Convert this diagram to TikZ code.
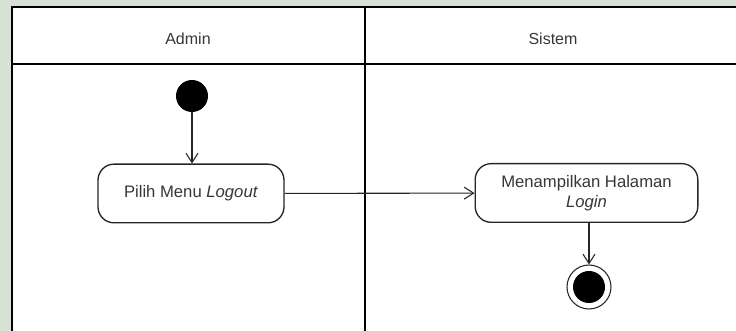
\documentclass[tikz,border=0pt]{standalone}
\usepackage{fontspec}
\setmainfont{Liberation Sans}
\usetikzlibrary{arrows.meta}
\definecolor{pagegreen}{RGB}{214,227,212}
\definecolor{txtgrey}{RGB}{55,55,55}

\begin{document}
\begin{tikzpicture}[x=0.75pt,y=0.75pt,
    lane/.style={font=\fontsize{12}{14}\selectfont,text=txtgrey},
    act/.style={draw=black!85,line width=1pt,rounded corners=12pt,fill=white,
      minimum height=44pt,align=center,font=\fontsize{12.5}{15}\selectfont,text=txtgrey},
    flow/.style={draw=black!85,line width=0.8pt,-{Straight Barb[length=7pt,width=9pt]}}]
  \useasboundingbox (0,0) rectangle (736,331);
  \clip (0,0) rectangle (736,331);
  \fill[pagegreen] (0,0) rectangle (736,331);
  \fill[white] (12,0) rectangle (740,324);
  % swimlanes
  \draw[line width=1.5pt] (12,-5) -- (12,324) -- (745,324);
  \draw[line width=1.5pt] (12,267) -- (745,267);
  \draw[line width=1.5pt] (365,-5) -- (365,324);
  \node[lane] (admin) at (188,292) {Admin};
  \node[lane] (sistem) at (553,292) {Sistem};
  % activities
  \node[circle,fill=black,minimum size=24pt,inner sep=0pt] (start) at (192,235) {};
  \node[act,minimum width=139.5pt] (logout) at (191,137.5) {Pilih Menu \textit{Logout}};
  \node[act,minimum width=167pt] (login) at (586.5,138) {Menampilkan Halaman\\\textit{Login}};
  \node[circle,draw=black!85,line width=0.8pt,minimum size=33pt,inner sep=0pt] (final) at (589,44) {};
  \node[circle,fill=black,minimum size=24pt,inner sep=0pt] (finaldot) at (final) {};
  % flows
  \draw[flow] (start) -- (start |- logout.north);
  \draw[flow] (logout) -- (login);
  \draw[flow] (login.south -| final) -- (final);
\end{tikzpicture}
\end{document}
